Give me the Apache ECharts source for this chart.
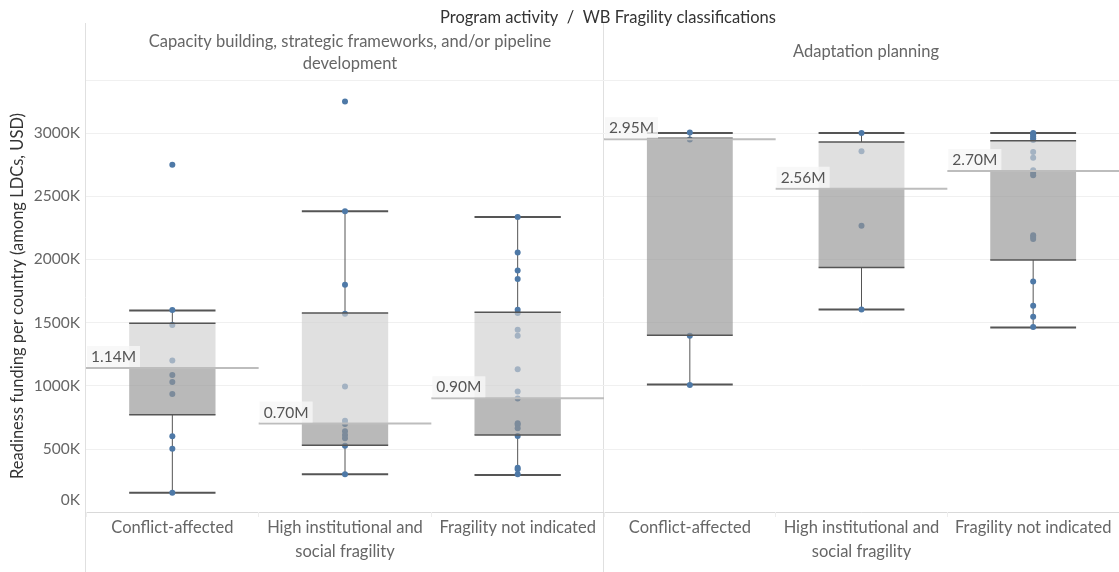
<!DOCTYPE html>
<html>
<head>
<meta charset="utf-8">
<script src="https://cdn.jsdelivr.net/npm/echarts@6/dist/echarts.min.js"></script>
<style>
html,body{margin:0;padding:0;background:#fff;}
#chart{width:1119px;height:572px;}
</style>
</head>
<body>
<div id="chart"></div>
<script>
// ---- Data (values in thousands of USD) ----
const mainTitle = 'Program activity  /  WB Fragility classifications';
const panelNames = ['Capacity building, strategic frameworks, and/or pipeline development', 'Adaptation planning'];
const categories = ['Conflict-affected', 'High institutional and social fragility', 'Fragility not indicated'];
const yAxisName = 'Readiness funding per country (among LDCs, USD)';

// box stats: [lower whisker, Q1, median, Q3, upper whisker]
const boxCapacity = [
  [153, 769, 1140, 1495, 1596],
  [299, 528, 700, 1575, 2380],
  [293, 610, 900, 1582, 2335]
];
const boxAdaptation = [
  [1009, 1400, 2950, 2958, 3000],
  [1603, 1936, 2560, 2929, 3000],
  [1461, 1995, 2700, 2940, 3000]
];

// individual country values
const pointsCapacity = [
  [2750, 1600, 1480, 1200, 1085, 1030, 935, 600, 500, 153],
  [3250, 2380, 1800, 1570, 993, 723, 697, 640, 610, 584, 525, 299],
  [2335, 2055, 1912, 1844, 1601, 1575, 1442, 1395, 1131, 953, 899, 703, 690, 663, 602, 351, 338, 299]
];
const pointsAdaptation = [
  [3005, 2948, 1395, 1005],
  [3000, 2855, 2266, 1603],
  [3000, 2990, 2975, 2958, 2945, 2850, 2805, 2705, 2684, 2665, 2190, 2177, 2161, 1825, 1632, 1545, 1464]
];

const yTicks = [0, 500, 1000, 1500, 2000, 2500, 3000];

// ---- Build ----
const FONT = 'Lato';
const FS = 16.5;
function boxRows(stats) { return stats.map((s, i) => [i].concat(s)); }
function pointRows(pts) {
  const rows = [];
  pts.forEach((arr, i) => arr.forEach(v => rows.push([i, v])));
  return rows;
}

function renderWhisker(params, api) {
  const x = api.value(0);
  const band = api.size([1, 0])[0];
  const bw = band * 0.5;
  const pLo = api.coord([x, api.value(1)]);
  const pQ1 = api.coord([x, api.value(2)]);
  const pQ3 = api.coord([x, api.value(4)]);
  const pHi = api.coord([x, api.value(5)]);
  const cx = pLo[0];
  const st = { stroke: '#555', lineWidth: 1 };
  const cap = { stroke: '#555', lineWidth: 2 };
  return {
    type: 'group',
    children: [
      { type: 'line', shape: { x1: cx, y1: pLo[1], x2: cx, y2: pQ1[1] }, style: st },
      { type: 'line', shape: { x1: cx, y1: pQ3[1], x2: cx, y2: pHi[1] }, style: st },
      { type: 'line', shape: { x1: cx - bw / 2, y1: pLo[1], x2: cx + bw / 2, y2: pLo[1] }, style: cap },
      { type: 'line', shape: { x1: cx - bw / 2, y1: pHi[1], x2: cx + bw / 2, y2: pHi[1] }, style: cap }
    ]
  };
}

function renderBox(params, api) {
  const x = api.value(0);
  const med = api.value(3);
  const band = api.size([1, 0])[0];
  const bw = band * 0.5;
  const pQ1 = api.coord([x, api.value(2)]);
  const pMed = api.coord([x, med]);
  const pQ3 = api.coord([x, api.value(4)]);
  const cx = pQ1[0];
  const left = cx - bw / 2;
  const bandLeft = cx - band / 2;
  const edge = { stroke: '#555', lineWidth: 1.5 };
  return {
    type: 'group',
    children: [
      { type: 'rect', shape: { x: left, y: pMed[1], width: bw, height: pQ1[1] - pMed[1] },
        style: { fill: 'rgba(148,148,148,0.655)' } },
      { type: 'rect', shape: { x: left, y: pQ3[1], width: bw, height: pMed[1] - pQ3[1] },
        style: { fill: 'rgba(208,208,208,0.655)' } },
      { type: 'line', shape: { x1: left, y1: pQ1[1], x2: left + bw, y2: pQ1[1] }, style: edge },
      { type: 'line', shape: { x1: left, y1: pQ3[1], x2: left + bw, y2: pQ3[1] }, style: edge },
      { type: 'line', shape: { x1: bandLeft, y1: pMed[1], x2: bandLeft + band, y2: pMed[1] },
        style: { stroke: '#bdbdbd', lineWidth: 2 } },
      { type: 'text', style: {
          text: (med / 1000).toFixed(2) + 'M', x: bandLeft + 1, y: pMed[1] - 1,
          align: 'left', verticalAlign: 'bottom',
          fill: '#555', fontSize: 15.5, fontFamily: FONT,
          backgroundColor: 'rgba(246,246,246,0.8)', padding: [3, 4, 2, 4]
        } }
    ]
  };
}

const catLabel = v => v.replace(' and ', ' and\n');
function xAxisCfg(gi) {
  return {
    type: 'category', gridIndex: gi, data: categories,
    axisLine: { lineStyle: { color: '#d9d9d9', width: 1 } },
    axisTick: { show: true, length: 5, lineStyle: { color: '#eeeeee' } },
    axisLabel: { formatter: catLabel, color: '#666', fontSize: FS, fontFamily: FONT, lineHeight: 24, margin: 4, interval: 0 }
  };
}
function yAxisCfg(gi, showLabels) {
  return {
    type: 'value', gridIndex: gi, min: 0, max: 3420, interval: 500,
    name: showLabels ? yAxisName : '',
    nameLocation: 'middle', nameGap: 60,
    nameTextStyle: { color: '#333', fontSize: FS, fontFamily: FONT },
    axisLine: { show: false }, axisTick: { show: false },
    splitLine: { lineStyle: { color: '#f0f0f0', width: 1 } },
    axisLabel: {
      show: showLabels, showMaxLabel: false, color: '#666', fontSize: 15.5, fontFamily: FONT, margin: 6,
      formatter: v => yTicks.indexOf(v) < 0 ? '' : (v === 0 ? '{z|0K}' : v + 'K'),
      rich: { z: { padding: [0, 0, 24, 0], color: '#666', fontSize: 15.5, fontFamily: FONT } }
    }
  };
}

const chart = echarts.init(document.getElementById('chart'));
const option = {
  animation: false,
  backgroundColor: '#fff',
  title: [
    { text: mainTitle, left: 603, top: 4, textAlign: 'center',
      textStyle: { color: '#333', fontSize: FS, fontWeight: 'normal', fontFamily: FONT } },
    { text: panelNames[0].replace(' development', '\ndevelopment'), left: 345, top: 26, textAlign: 'center',
      textStyle: { color: '#666', fontSize: FS, fontWeight: 'normal', fontFamily: FONT, lineHeight: 22 } },
    { text: panelNames[1], left: 861, top: 38, textAlign: 'center',
      textStyle: { color: '#666', fontSize: FS, fontWeight: 'normal', fontFamily: FONT } }
  ],
  grid: [
    { left: 86, top: 80, width: 518, height: 432 },
    { left: 604, top: 80, width: 515, height: 432 }
  ],
  xAxis: [xAxisCfg(0), xAxisCfg(1)],
  yAxis: [yAxisCfg(0, true), yAxisCfg(1, false)],
  graphic: [
    { type: 'line', shape: { x1: 85.5, y1: 23, x2: 85.5, y2: 572 }, style: { stroke: '#e0e0e0', lineWidth: 1 }, silent: true },
    { type: 'line', shape: { x1: 603.5, y1: 23, x2: 603.5, y2: 572 }, style: { stroke: '#e0e0e0', lineWidth: 1 }, silent: true },
    { type: 'line', shape: { x1: 86, y1: 80.5, x2: 1119, y2: 80.5 }, style: { stroke: '#e0e0e0', lineWidth: 1 }, silent: true }
  ],
  series: [
    { type: 'custom', xAxisIndex: 0, yAxisIndex: 0, z: 1, renderItem: renderWhisker, data: boxRows(boxCapacity), encode: { x: 0, y: [1, 2, 3, 4, 5] } },
    { type: 'custom', xAxisIndex: 1, yAxisIndex: 1, z: 1, renderItem: renderWhisker, data: boxRows(boxAdaptation), encode: { x: 0, y: [1, 2, 3, 4, 5] } },
    { type: 'scatter', xAxisIndex: 0, yAxisIndex: 0, z: 2, symbolSize: 6, itemStyle: { color: '#4e79a7', opacity: 1 }, data: pointRows(pointsCapacity) },
    { type: 'scatter', xAxisIndex: 1, yAxisIndex: 1, z: 2, symbolSize: 6, itemStyle: { color: '#4e79a7', opacity: 1 }, data: pointRows(pointsAdaptation) },
    { type: 'custom', xAxisIndex: 0, yAxisIndex: 0, z: 3, renderItem: renderBox, data: boxRows(boxCapacity), encode: { x: 0, y: [1, 2, 3, 4, 5] } },
    { type: 'custom', xAxisIndex: 1, yAxisIndex: 1, z: 3, renderItem: renderBox, data: boxRows(boxAdaptation), encode: { x: 0, y: [1, 2, 3, 4, 5] } }
  ]
};
chart.setOption(option);
</script>
</body>
</html>
